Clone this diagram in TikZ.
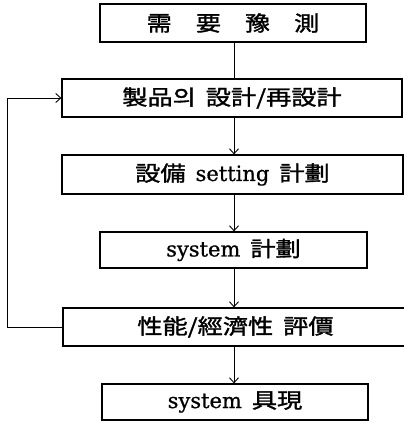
\documentclass[tikz,border=0pt]{standalone}
\usepackage{fontspec}
\setmainfont{DejaVu Serif}
\newfontfamily\cjk[FakeBold=1.5,FakeStretch=1.2]{Noto Sans CJK KR}
\newfontfamily\lat[FakeBold=0.8]{DejaVu Serif}
\newcommand\gapp{\hspace{10pt}}
\usetikzlibrary{arrows.meta}
\begin{document}
\begin{tikzpicture}[x=1pt,y=-1pt,
  box/.style={draw, line width=1.2pt, rectangle, inner sep=0pt, font=\fontsize{21}{24}\selectfont},
  conn/.style={line width=0.9pt},
  arr/.style={conn, -{Straight Barb[length=5pt,width=9pt,line width=0.9pt]}}]
\useasboundingbox (0,0) rectangle (404,423);
\node[box, minimum width=266pt, minimum height=38pt] (b1) at (233,23) {\cjk 需\hspace{24pt}要\hspace{24pt}豫\hspace{24pt}測};
\node[box, minimum width=340pt, minimum height=38pt] (b2) at (232,98) {\cjk 製品의\gapp 設計/再設計};
\node[box, minimum width=341pt, minimum height=39pt] (b3) at (232.5,174.5) {\cjk 設備\gapp\lat setting\gapp\cjk 計劃};
\node[box, minimum width=267pt, minimum height=36pt] (b4) at (233.5,250) {\lat system\gapp\cjk 計劃};
\node[box, minimum width=345pt, minimum height=38pt] (b5) at (235.5,327) {\cjk 性能/經濟性\gapp 評價};
\node[box, minimum width=266pt, minimum height=36pt] (b6) at (235,402) {\lat system\gapp\cjk 具現};
\coordinate (cx) at (234,0);
\coordinate (lx) at (7,0);
\draw[conn] (b1.south -| cx) -- (b2.north -| cx);
\draw[arr] (b2.south -| cx) -- (b3.north -| cx);
\draw[arr] (b3.south -| cx) -- (b4.north -| cx);
\draw[arr] (b4.south -| cx) -- (b5.north -| cx);
\draw[arr] (b5.south -| cx) -- (b6.north -| cx);
\draw[arr] (b5.west) -- (b5.west -| lx) -- (b2.west -| lx) -- (b2.west);
\end{tikzpicture}
\end{document}
